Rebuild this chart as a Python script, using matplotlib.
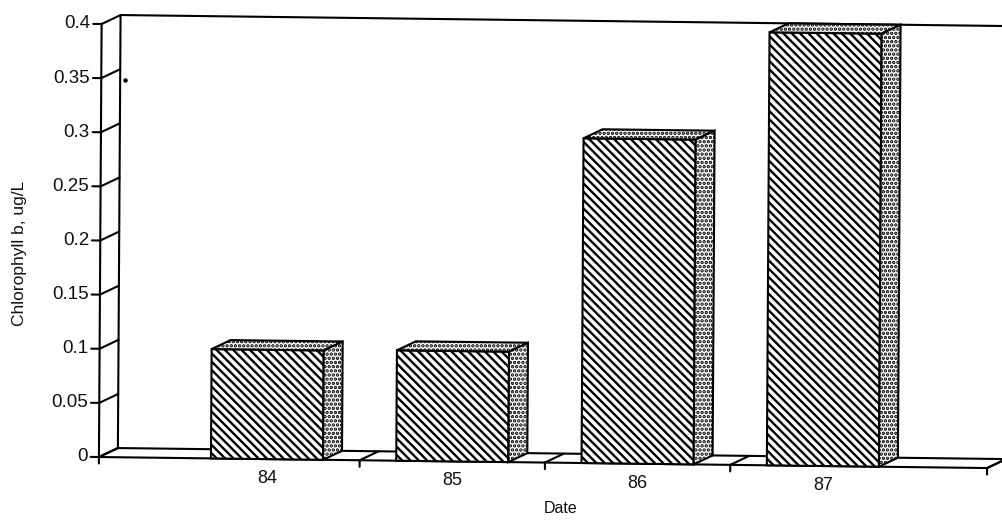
import matplotlib
matplotlib.use("Agg")
import matplotlib.pyplot as plt
from matplotlib.patches import Polygon
from matplotlib.transforms import Affine2D

dates = ["84", "85", "86", "87"]
chl_b = [0.101, 0.102, 0.3, 0.4]
yticks = [0, 0.05, 0.1, 0.15, 0.2, 0.25, 0.3, 0.35, 0.4]
ylabels = ["0", "0.05", "0.1", "0.15", "0.2", "0.25", "0.3", "0.35", "0.4"]

# category axis runs from left wall to right end, ticks between the bars
x_left = -0.907
x_right = 3.886
xticks = [x_left, 0.5, 1.5, 2.5, x_right]
y_top = 0.4

# 3d offset of the back wall, in axis units
dx = 0.102
dy = 0.0085
bar_w = 0.605

plt.rcParams["font.family"] = ["Liberation Sans", "DejaVu Sans"]
plt.rcParams["hatch.linewidth"] = 1.7

fig = plt.figure(figsize=(10.03, 5.24), dpi=100)
ax = fig.add_axes([0, 0, 1, 1])
ax.set_xlim(0, 1003)
ax.set_ylim(524, 0)
ax.axis("off")

# the scanned page is slightly rotated, so data goes through a skewed transform
skew = Affine2D.from_values(185.3, 2.3, 6.7, -1082.5, 267, 459.1)
tr = skew + ax.transData
lw = 1.5


def line(xs, ys, width=lw, z=2):
    ax.plot(xs, ys, color="black", lw=width, transform=tr, zorder=z,
            solid_capstyle="round", clip_on=False)


# walls and floor
line([x_left, x_left], [0, y_top], z=1)
line([x_left + dx, x_left + dx], [dy, y_top + dy], z=1)
line([x_left + dx, x_right + dx], [y_top + dy, y_top + dy], z=1)
line([x_left + dx, x_right + dx], [dy, dy], z=1)
line([x_left, x_right], [0, 0], z=1)
line([x_right, x_right + dx], [0, dy], z=1)

for t, lab in zip(yticks, ylabels):
    line([x_left - 0.045, x_left], [t, t], z=1)
    line([x_left, x_left + dx], [t, t + dy], z=1)
    ax.text(x_left - 0.06, t, lab, transform=tr, ha="right", va="center",
            fontsize=13.5, color="#111111")

for t in xticks:
    line([t, t], [-0.006, 0], z=1)
    line([t, t + dx], [0, dy], z=1)

for i, (d, v) in enumerate(zip(dates, chl_b)):
    x0 = i - bar_w / 2
    x1 = i + bar_w / 2
    front = [(x0, 0), (x1, 0), (x1, v), (x0, v)]
    top = [(x0, v), (x1, v), (x1 + dx, v + dy), (x0 + dx, v + dy)]
    side = [(x1, 0), (x1 + dx, dy), (x1 + dx, v + dy), (x1, v)]
    ax.add_patch(Polygon(front, facecolor="white", edgecolor="black", lw=1.5,
                         hatch="\\\\\\\\", transform=tr, zorder=3))
    for face in (top, side):
        ax.add_patch(Polygon(face, facecolor="white", edgecolor="black", lw=1.5,
                             hatch="....", transform=tr, zorder=3))
    ax.text(i, -0.018, d, transform=tr, ha="center", va="center",
            fontsize=13, color="#111111")

ax.text(1.587, -0.042, "Date", transform=tr, ha="center", va="center",
        fontsize=11.5, color="#111111")
ax.text(-1.34, 0.187, "Chlorophyll b, ug/L", transform=tr, ha="center",
        va="center", rotation=90, fontsize=12.5, color="#111111")

# scan speck right of the axis
ax.plot([125], [80], marker="o", ms=2.2, color="black", zorder=1)

fig.savefig("out.png", dpi=100)
